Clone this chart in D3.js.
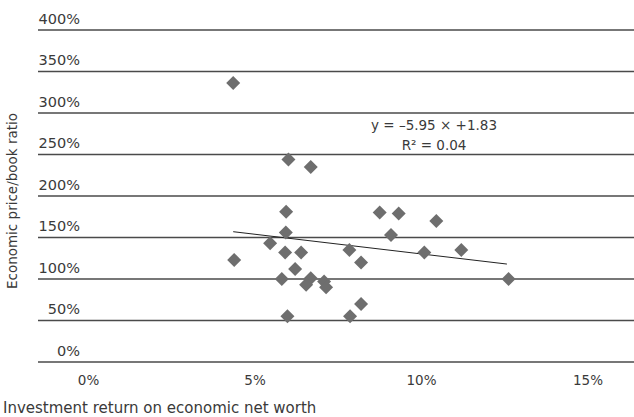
<!DOCTYPE html>
<html>
<head>
<meta charset="utf-8">
<script src="https://cdn.jsdelivr.net/npm/d3@7"></script>
<style>
  body { margin: 0; background: #fff; }
  text { font-family: "DejaVu Sans", sans-serif; fill: #3a3a3a; }
</style>
</head>
<body>
<svg id="chart" width="634" height="417"></svg>
<script>
// investment return (%) vs economic price/book ratio (%)
const returnPct = [4.36, 6.02, 6.69, 5.95, 5.94, 5.47, 5.92, 6.40, 4.39, 6.22,
    5.82, 6.69, 6.55, 7.09, 7.15, 7.85, 8.20, 8.20, 7.87, 5.99,
    8.76, 9.33, 10.46, 9.10, 10.10, 11.21, 12.63];
const priceBook = [336, 244, 235, 181, 156, 143, 132, 132, 123, 112,
    100, 101, 93, 97, 90, 135, 120, 70, 55, 55,
    180, 179, 170, 153, 132, 135, 100];

// fitted trend line as drawn (start, end)
const trendX = [4.36, 12.58];
const trendY = [157, 118];

const yTicks = [0, 50, 100, 150, 200, 250, 300, 350, 400];
const xTicks = [0, 5, 10, 15];
const eqLines = ["y = \u20135.95 \u00d7 +1.83", "R\u00b2 = 0.04"];

const svg = d3.select("#chart");
const x = d3.scaleLinear().domain([0, 15]).range([88, 587.5]);
const y = d3.scaleLinear().domain([0, 400]).range([362, 30]);

// gridlines + y labels
const yAxis = d3.axisLeft(y).tickValues(yTicks).tickSize(0).tickFormat(d => d + "%");
const gy = svg.append("g").attr("transform", "translate(80,0)").call(yAxis);
gy.select(".domain").remove();
gy.selectAll("text")
    .attr("x", 0)
    .attr("dy", "-0.45em")
    .attr("text-anchor", "end")
    .style("font-size", "14.5px")
    .style("font-family", "DejaVu Sans");

svg.append("g").selectAll("line")
    .data(yTicks)
    .enter()
    .append("line")
    .attr("x1", 38)
    .attr("x2", 634)
    .attr("y1", d => y(d))
    .attr("y2", d => y(d))
    .attr("stroke", "#4a4a4a")
    .attr("stroke-width", 1.4);

// x labels
const xAxis = d3.axisBottom(x).tickValues(xTicks).tickSize(0).tickFormat(d => d + "%");
const gx = svg.append("g").attr("transform", "translate(0,362)").call(xAxis);
gx.select(".domain").remove();
gx.selectAll("text")
    .attr("y", 0)
    .attr("dy", "1.7em")
    .style("font-size", "13.5px")
    .style("font-family", "DejaVu Sans");

// trend line
svg.append("path")
    .datum(trendX.map((d, i) => [d, trendY[i]]))
    .attr("d", d3.line().x(d => x(d[0])).y(d => y(d[1])))
    .attr("stroke", "#222")
    .attr("stroke-width", 1)
    .attr("fill", "none");

// diamonds
const diamond = d3.symbol().type(d3.symbolSquare).size(98);
svg.append("g").selectAll("path")
    .data(returnPct.map((d, i) => ({rx: d, pb: priceBook[i]})))
    .enter()
    .append("path")
    .attr("d", diamond)
    .attr("transform", d => "translate(" + x(d.rx) + "," + y(d.pb) + ") rotate(45)")
    .attr("fill", "#6e6e6e");

// equation
svg.append("g").selectAll("text")
    .data(eqLines)
    .enter()
    .append("text")
    .text(d => d)
    .attr("x", 434)
    .attr("y", (d, i) => 130 + i * 20)
    .attr("text-anchor", "middle")
    .style("font-size", "13.5px");

// axis titles
svg.append("text")
    .text("Investment return on economic net worth")
    .attr("x", 3)
    .attr("y", 413)
    .style("font-size", "15px");

svg.append("text")
    .text("Economic price/book ratio")
    .attr("transform", "translate(17,201) rotate(-90)")
    .attr("text-anchor", "middle")
    .style("font-size", "13.5px");
</script>
</body>
</html>
